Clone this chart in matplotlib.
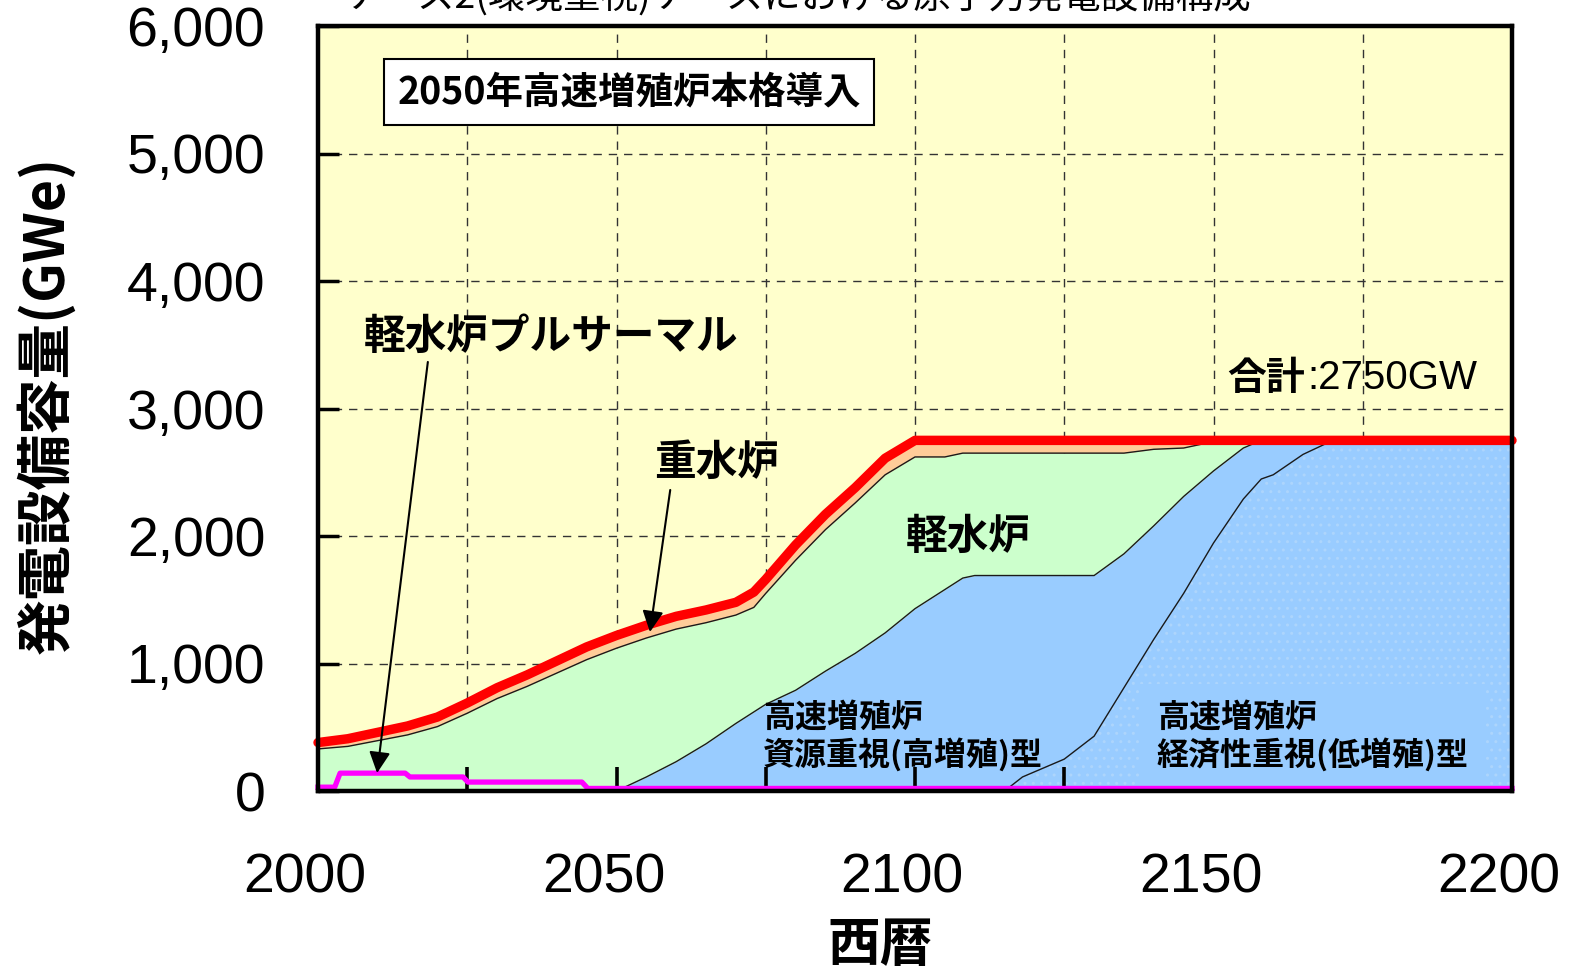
import matplotlib.pyplot as plt
import matplotlib.transforms as mtransforms
import numpy as np

# data (GWe)
years = [2000, 2005, 2010, 2015, 2020, 2025, 2030, 2035, 2040, 2045,
         2050, 2055, 2060, 2065, 2070, 2073, 2075, 2080, 2085, 2090,
         2095, 2100, 2105, 2108, 2110, 2115, 2118, 2120, 2125, 2130,
         2135, 2140, 2145, 2150, 2155, 2158, 2160, 2165, 2170, 2175, 2200]
total = [380, 410, 460, 510, 580, 690, 810, 910, 1020, 1130,
         1220, 1300, 1370, 1420, 1480, 1560, 1660, 1930, 2170, 2380,
         2610, 2750, 2750, 2750, 2750, 2750, 2750, 2750, 2750, 2750,
         2750, 2750, 2750, 2750, 2750, 2750, 2750, 2750, 2750, 2750, 2750]
# top of light water reactors (below the heavy water layer)
lwr_top = [330, 350, 395, 440, 505, 610, 725, 820, 925, 1030,
           1120, 1200, 1270, 1320, 1380, 1440, 1550, 1810, 2050, 2260,
           2480, 2620, 2620, 2650, 2650, 2650, 2650, 2650, 2650, 2650,
           2650, 2680, 2690, 2740, 2750, 2750, 2750, 2750, 2750, 2750, 2750]
# top of FBR (resource type) = bottom of light water reactors
fbr_top = [0, 0, 0, 0, 0, 0, 0, 0, 0, 0,
           0, 110, 230, 370, 530, 620, 680, 790, 940, 1080,
           1240, 1430, 1580, 1670, 1690, 1690, 1690, 1690, 1690, 1690,
           1860, 2080, 2310, 2510, 2690, 2750, 2750, 2750, 2750, 2750, 2750]
# top of FBR (economy type)
econ_top = [0, 0, 0, 0, 0, 0, 0, 0, 0, 0,
            0, 0, 0, 0, 0, 0, 0, 0, 0, 0,
            0, 0, 0, 0, 0, 0, 110, 150, 250, 430,
            810, 1190, 1550, 1945, 2290, 2447, 2480, 2640, 2750, 2750, 2750]

pu_years = [2000, 2002.8, 2003.7, 2014.6, 2015.4, 2024.3, 2025.1, 2044.2, 2045.2, 2200]
pu_vals = [30, 30, 140, 140, 110, 110, 70, 70, 20, 20]

cjk = ["Noto Sans CJK JP", "DejaVu Sans"]

fig = plt.figure(figsize=(15.69, 9.76), dpi=100)
ax = fig.add_axes([318 / 1569, 1 - 791 / 976, (1512 - 318) / 1569, (791 - 26) / 976])
ax.set_facecolor("#FFFFCC")
ax.set(xlim=(2000, 2200), ylim=(0, 6000))

# grid under the areas
for x in range(2025, 2200, 25):
    ax.axvline(x, color="#333333", lw=1.0, ls=(0, (6, 5)), zorder=0.6)
for y in range(1000, 6000, 1000):
    ax.axhline(y, color="#333333", lw=1.0, ls=(0, (6, 5)), zorder=0.6)

ax.fill_between(years, 0, econ_top, facecolor="#99CCFF", edgecolor="#ADD5FC",
                hatch="..", lw=0, zorder=1)
ax.fill_between(years, econ_top, fbr_top, color="#99CCFF", lw=0, zorder=1)
ax.fill_between(years, fbr_top, lwr_top, color="#CCFFCC", lw=0, zorder=1)
ax.fill_between(years, lwr_top, total, color="#FFCC99", lw=0, zorder=1)

for b in (econ_top, fbr_top, lwr_top):
    ax.plot(years, b, color="#1a1a1a", lw=1.0, zorder=1.5)

ax.plot(years, total, color="#FF0000", lw=6.8, solid_capstyle="round",
        solid_joinstyle="round", zorder=4, clip_on=False)
ax.plot(pu_years, pu_vals, color="#FF00FF", lw=3.8, zorder=4, clip_on=False)

for s in ax.spines.values():
    s.set_linewidth(3.2)
    s.set_zorder(5)

ax.set_xticks(range(2000, 2201, 50))
ax.set_xticks(range(2025, 2200, 50), minor=True)
ax.set_yticks(range(0, 6001, 1000))
ax.set_yticklabels([f"{v:,}" for v in range(0, 6001, 1000)])
ax.tick_params(axis="x", which="both", direction="in", length=17, width=2.6, pad=44)
ax.tick_params(axis="y", direction="in", length=15, width=2.5, pad=38)
ax.xaxis.set_zorder(3.5)
shift = mtransforms.ScaledTranslation(-13 / 100, 0, fig.dpi_scale_trans)
for lab in ax.get_xticklabels():
    lab.set_transform(lab.get_transform() + shift)
for lab in ax.get_xticklabels() + ax.get_yticklabels():
    lab.set_fontfamily("Liberation Sans")
    lab.set_fontsize(40)

fig.text(46 / 1569, 1 - 405 / 976, "発電設備容量(GWe)", rotation=90, ha="center",
         va="center", fontsize=40, fontweight="bold", family=cjk)
fig.text(880 / 1569, 1 - 945 / 976, "西暦", ha="center", va="center",
         fontsize=38, fontweight="bold", family=cjk)
fig.text(797 / 1569, 1 - 8 / 976, "ケース2(環境重視)ケースにおける原子力発電設備構成",
         ha="center", va="baseline", fontsize=27, family=cjk)

ax.text(2052.1, 5482, "2050年高速増殖炉本格導入", ha="center", va="center",
        fontsize=27, fontweight="bold", family=cjk, zorder=6,
        bbox=dict(boxstyle="square,pad=0.35", facecolor="white", edgecolor="black", lw=1.5))

arrow = dict(arrowstyle="-|>", color="black", lw=1.5, mutation_scale=32,
             shrinkA=0, shrinkB=0)
ax.text(2039, 3561, "軽水炉プルサーマル", ha="center", va="center", fontsize=30,
        fontweight="bold", family=cjk, zorder=6)
ax.annotate("", xy=(2009.9, 141), xytext=(2018.4, 3365), arrowprops=arrow, zorder=6)
ax.text(2066.7, 2573, "重水炉", ha="center", va="center", fontsize=30,
        fontweight="bold", family=cjk, zorder=6)
ax.annotate("", xy=(2055.6, 1247), xytext=(2059, 2361), arrowprops=arrow, zorder=6)

ax.text(2108.9, 1992, "軽水炉", ha="center", va="center", fontsize=30,
        fontweight="bold", family=cjk, zorder=6)
ax.text(2165.3, 3239, "合計", ha="right", va="center", fontsize=28,
        fontweight="bold", family=cjk, zorder=6)
ax.text(2165.8, 3239, ":2750GW", ha="left", va="center", fontsize=29,
        family="Liberation Sans", zorder=6)
ax.text(2074.5, 425, "高速増殖炉\n資源重視(高増殖)型", ha="left", va="center",
        fontsize=23, fontweight="bold", family=cjk, linespacing=1.15, zorder=3.7)
ax.text(2140.5, 425, "高速増殖炉\n経済性重視(低増殖)型", ha="left", va="center",
        fontsize=23, fontweight="bold", family=cjk, linespacing=1.15, zorder=3.7,
        bbox=dict(boxstyle="square,pad=0.55", facecolor="#99CCFF", edgecolor="none"))

fig.savefig("out.png", dpi=100)
